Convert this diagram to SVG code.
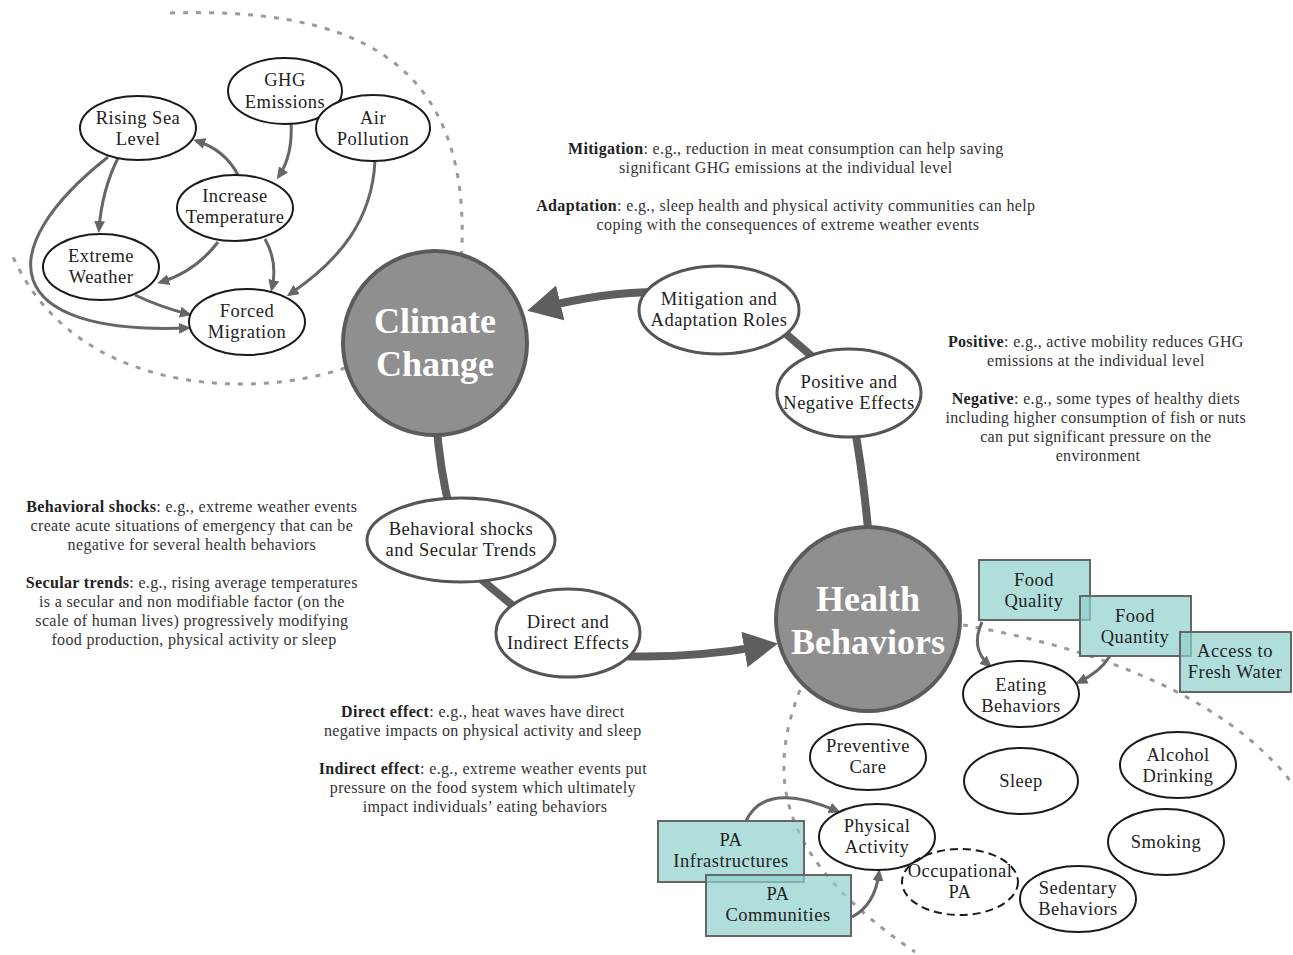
<svg xmlns="http://www.w3.org/2000/svg" width="1293" height="955" viewBox="0 0 1293 955">
<defs>
<style>
.bg{fill:#ffffff}
.dot{fill:none;stroke:#9a9a9a;stroke-width:3;stroke-dasharray:5 8}
.thick{fill:none;stroke:#5e5e5e;stroke-width:8}
.thin{fill:none;stroke:#666666;stroke-width:3;marker-end:url(#ah)}
.big{fill:#8f8f8f;stroke:#5b5b5b;stroke-width:4}
.bigt{font-family:"Liberation Serif",serif;font-weight:bold;font-size:36px;fill:#ffffff;text-anchor:middle}
.cyc{fill:#ffffff;stroke:#555555;stroke-width:3}
.sm{fill:#ffffff;stroke:#1a1a1a;stroke-width:2}
.dash{fill:none;stroke:#1a1a1a;stroke-width:2;stroke-dasharray:8 5}
.box{fill:#8fd0cc;fill-opacity:0.7;stroke:#666666;stroke-width:2}
.nt{font-family:"Liberation Serif",serif;font-size:18.5px;letter-spacing:0.5px;fill:#222222;text-anchor:middle}
.bt{font-family:"Liberation Serif",serif;font-size:16px;letter-spacing:0.35px;fill:#333333;text-anchor:middle}
.b{font-weight:bold;fill:#222222}
</style>
<marker id="ah" markerUnits="userSpaceOnUse" markerWidth="12" markerHeight="11" refX="8" refY="5.5" orient="auto">
<path d="M0,0 L12,5.5 L0,11 z" fill="#666666"/>
</marker>
<marker id="bigah" markerUnits="userSpaceOnUse" markerWidth="34" markerHeight="36" refX="26" refY="18" orient="auto">
<path d="M0,0 L34,18 L0,36 z" fill="#5e5e5e"/>
</marker>
</defs>
<rect class="bg" x="0" y="0" width="1293" height="955"/>

<g id="boundaries">
<path class="dot" d="M 170 13 C 340 8, 468 50, 462 245 C 460 320, 420 355, 345 368 C 250 400, 70 395, 10 250"/>
<path class="dot" d="M 963 625 C 1080 645, 1220 690, 1292 783"/>
<path class="dot" d="M 800 690 C 765 780, 780 860, 915 952"/>
</g>

<g id="connectors">
<path class="thick" d="M 660 292 C 620 292, 585 297, 535 309" marker-end="url(#bigah)"/>
<path class="thick" d="M 770 320 L 830 372"/>
<path class="thick" d="M 853 420 Q 863 470 869 540"/>
<path class="thick" d="M 436 420 Q 440 470 450 510"/>
<path class="thick" d="M 470 570 L 530 620"/>
<path class="thick" d="M 620 656 Q 690 659 770 645" marker-end="url(#bigah)"/>

<path class="thin" d="M 291 122 Q 293 155 279 176"/>
<path class="thin" d="M 238 175 Q 225 150 197 141"/>
<path class="thin" d="M 118 158 Q 102 190 99 229"/>
<path class="thin" d="M 108 157 C -10 250, 0 335, 187 328"/>
<path class="thin" d="M 218 242 Q 195 272 161 282"/>
<path class="thin" d="M 265 239 Q 278 262 272 288"/>
<path class="thin" d="M 135 295 Q 160 307 188 314"/>
<path class="thin" d="M 375 161 C 372 220, 340 260, 290 294"/>

<path class="thin" d="M 982 622 Q 970 648 989 665"/>
<path class="thin" d="M 1110 656 Q 1100 672 1079 682"/>
<path class="thin" d="M 746 821 Q 765 780 837 811"/>
<path class="thin" d="M 852 917 Q 875 905 879 873"/>
</g>

<g id="climate-change">
<circle class="big" cx="435" cy="343" r="92"/>
<text class="bigt"><tspan x="435" y="333">Climate</tspan><tspan x="435" y="376">Change</tspan></text>
</g>
<g id="health-behaviors">
<circle class="big" cx="868" cy="619" r="92"/>
<text class="bigt"><tspan x="868" y="611">Health</tspan><tspan x="868" y="654">Behaviors</tspan></text>
</g>

<g id="mitigation-roles">
<ellipse class="cyc" cx="719" cy="310" rx="80" ry="44"/>
<text class="nt"><tspan x="719" y="305">Mitigation and</tspan><tspan x="719" y="326">Adaptation Roles</tspan></text>
</g>
<g id="positive-negative">
<ellipse class="cyc" cx="849" cy="393" rx="72" ry="44"/>
<text class="nt"><tspan x="849" y="388">Positive and</tspan><tspan x="849" y="409">Negative Effects</tspan></text>
</g>
<g id="behavioral-shocks">
<ellipse class="cyc" cx="461" cy="540" rx="94" ry="42"/>
<text class="nt"><tspan x="461" y="535">Behavioral shocks</tspan><tspan x="461" y="556">and Secular Trends</tspan></text>
</g>
<g id="direct-indirect">
<ellipse class="cyc" cx="568" cy="633" rx="72" ry="44"/>
<text class="nt"><tspan x="568" y="628">Direct and</tspan><tspan x="568" y="649">Indirect Effects</tspan></text>
</g>

<g id="ghg">
<ellipse class="sm" cx="285" cy="91" rx="57" ry="33"/>
<text class="nt"><tspan x="285" y="86">GHG</tspan><tspan x="285" y="108">Emissions</tspan></text>
</g>
<g id="air-pollution">
<ellipse class="sm" cx="373" cy="128" rx="57" ry="33"/>
<text class="nt"><tspan x="373" y="124">Air</tspan><tspan x="373" y="145">Pollution</tspan></text>
</g>
<g id="rising-sea">
<ellipse class="sm" cx="138" cy="128" rx="58" ry="32"/>
<text class="nt"><tspan x="138" y="124">Rising Sea</tspan><tspan x="138" y="145">Level</tspan></text>
</g>
<g id="increase-temperature">
<ellipse class="sm" cx="235" cy="208" rx="58" ry="33"/>
<text class="nt"><tspan x="235" y="202">Increase</tspan><tspan x="235" y="223">Temperature</tspan></text>
</g>
<g id="extreme-weather">
<ellipse class="sm" cx="101" cy="267" rx="58" ry="33"/>
<text class="nt"><tspan x="101" y="262">Extreme</tspan><tspan x="101" y="283">Weather</tspan></text>
</g>
<g id="forced-migration">
<ellipse class="sm" cx="247" cy="322" rx="58" ry="33"/>
<text class="nt"><tspan x="247" y="317">Forced</tspan><tspan x="247" y="338">Migration</tspan></text>
</g>

<g id="eating-behaviors">
<ellipse class="sm" cx="1021" cy="694" rx="58" ry="33"/>
<text class="nt"><tspan x="1021" y="691">Eating</tspan><tspan x="1021" y="712">Behaviors</tspan></text>
</g>
<g id="preventive-care">
<ellipse class="sm" cx="868" cy="757" rx="58" ry="33"/>
<text class="nt"><tspan x="868" y="752">Preventive</tspan><tspan x="868" y="773">Care</tspan></text>
</g>
<g id="sleep">
<ellipse class="sm" cx="1021" cy="781" rx="57" ry="33"/>
<text class="nt" x="1021" y="787">Sleep</text>
</g>
<g id="alcohol">
<ellipse class="sm" cx="1178" cy="765" rx="58" ry="33"/>
<text class="nt"><tspan x="1178" y="761">Alcohol</tspan><tspan x="1178" y="782">Drinking</tspan></text>
</g>
<g id="smoking">
<ellipse class="sm" cx="1166" cy="842" rx="58" ry="33"/>
<text class="nt" x="1166" y="848">Smoking</text>
</g>
<g id="physical-activity">
<ellipse class="sm" cx="877" cy="837" rx="58" ry="33"/>
<text class="nt"><tspan x="877" y="832">Physical</tspan><tspan x="877" y="853">Activity</tspan></text>
</g>
<g id="occupational-pa">
<ellipse class="dash" cx="960" cy="882" rx="58" ry="33"/>
<text class="nt"><tspan x="960" y="877">Occupational</tspan><tspan x="960" y="898">PA</tspan></text>
</g>
<g id="sedentary">
<ellipse class="sm" cx="1078" cy="899" rx="58" ry="33"/>
<text class="nt"><tspan x="1078" y="894">Sedentary</tspan><tspan x="1078" y="915">Behaviors</tspan></text>
</g>

<g id="food-quality">
<rect class="box" x="979" y="560" width="111" height="60"/>
<text class="nt"><tspan x="1034" y="586">Food</tspan><tspan x="1034" y="607">Quality</tspan></text>
</g>
<g id="food-quantity">
<rect class="box" x="1080" y="596" width="111" height="60"/>
<text class="nt"><tspan x="1135" y="622">Food</tspan><tspan x="1135" y="643">Quantity</tspan></text>
</g>
<g id="fresh-water">
<rect class="box" x="1180" y="632" width="111" height="60"/>
<text class="nt"><tspan x="1235" y="657">Access to</tspan><tspan x="1235" y="678">Fresh Water</tspan></text>
</g>
<g id="pa-infrastructures">
<rect class="box" x="658" y="821" width="146" height="61"/>
<text class="nt"><tspan x="731" y="846">PA</tspan><tspan x="731" y="867">Infrastructures</tspan></text>
</g>
<g id="pa-communities">
<rect class="box" x="706" y="875" width="145" height="61"/>
<text class="nt"><tspan x="778" y="900">PA</tspan><tspan x="778" y="921">Communities</tspan></text>
</g>

<g id="note-mitigation">
<text class="bt">
<tspan x="788" y="154"><tspan class="b">Mitigation</tspan>: e.g., reduction in meat consumption can help saving</tspan>
<tspan x="788" y="173">significant GHG emissions at the individual level</tspan>
<tspan x="788" y="211"><tspan class="b">Adaptation</tspan>: e.g., sleep health and physical activity communities can help</tspan>
<tspan x="788" y="230">coping with the consequences of extreme weather events</tspan>
</text>
</g>
<g id="note-positive">
<text class="bt">
<tspan x="1098" y="347"><tspan class="b">Positive</tspan>: e.g., active mobility reduces GHG</tspan>
<tspan x="1098" y="366">emissions at the individual level</tspan>
<tspan x="1098" y="404"><tspan class="b">Negative</tspan>: e.g., some types of healthy diets</tspan>
<tspan x="1098" y="423">including higher consumption of fish or nuts</tspan>
<tspan x="1098" y="442">can put significant pressure on the</tspan>
<tspan x="1098" y="461">environment</tspan>
</text>
</g>
<g id="note-behavioral">
<text class="bt">
<tspan x="194" y="512"><tspan class="b">Behavioral shocks</tspan>: e.g., extreme weather events</tspan>
<tspan x="194" y="531">create acute situations of emergency that can be</tspan>
<tspan x="194" y="550">negative for several health behaviors</tspan>
<tspan x="194" y="588"><tspan class="b">Secular trends</tspan>: e.g., rising average temperatures</tspan>
<tspan x="194" y="607">is a secular and non modifiable factor (on the</tspan>
<tspan x="194" y="626">scale of human lives) progressively modifying</tspan>
<tspan x="194" y="645">food production, physical activity or sleep</tspan>
</text>
</g>
<g id="note-direct">
<text class="bt">
<tspan x="485" y="717"><tspan class="b">Direct effect</tspan>: e.g., heat waves have direct</tspan>
<tspan x="485" y="736">negative impacts on physical activity and sleep</tspan>
<tspan x="485" y="774"><tspan class="b">Indirect effect</tspan>: e.g., extreme weather events put</tspan>
<tspan x="485" y="793">pressure on the food system which ultimately</tspan>
<tspan x="485" y="812">impact individuals’ eating behaviors</tspan>
</text>
</g>
</svg>
